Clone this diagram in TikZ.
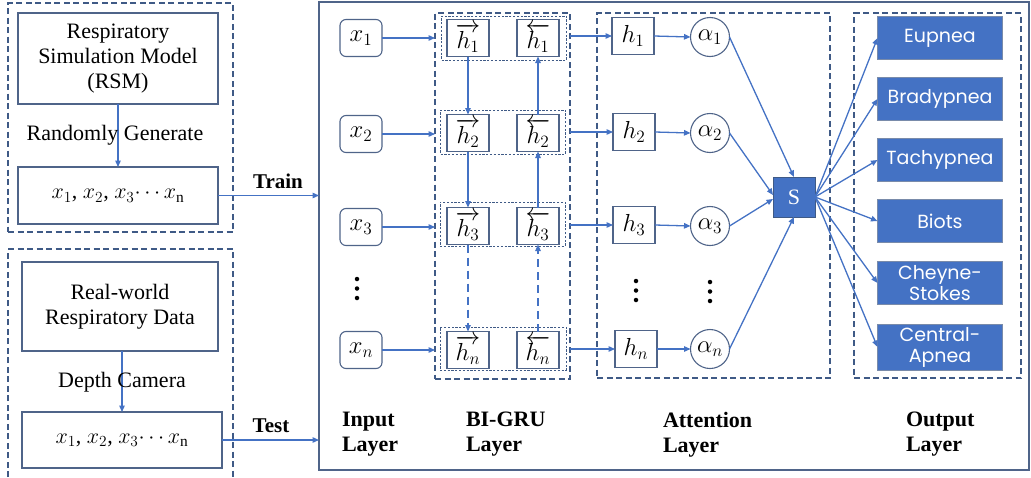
\RequirePackage{fix-cm}
\documentclass[tikz,border=0pt]{standalone}
\usepackage{fontspec}
\setmainfont{Liberation Serif}
\newfontfamily\popp{Poppins}
\usetikzlibrary{arrows.meta}
\definecolor{lblue}{HTML}{4472C4}
\definecolor{dashc}{HTML}{3F5A86}
\definecolor{bordc}{HTML}{4F6489}
\definecolor{sfill}{HTML}{4472C4}
\newcommand{\mymath}[2][1.12]{\scalebox{#1}{$#2$}}
\begin{document}
\begin{tikzpicture}[x=1pt,y=-1pt,
 every node/.style={inner sep=0pt, outer sep=0pt},
 txt/.style={font=\fontsize{22}{25}\selectfont},
 plainbox/.style={draw=bordc, line width=1.1pt, fill=white, align=center, font=\fontsize{22}{25}\selectfont},
 inbox/.style={draw=bordc, line width=1.1pt, rounded corners=6pt, minimum width=42pt, minimum height=37pt, font=\fontsize{22}{25}\selectfont},
 hbox/.style={draw=bordc, line width=1.1pt, fill=white, minimum width=42pt, minimum height=37pt, font=\fontsize{22}{25}\selectfont},
 abox/.style={draw=bordc, line width=1.1pt, circle, minimum size=39pt, font=\fontsize{22}{25}\selectfont},
 outbox/.style={draw=dashc!70, line width=0.8pt, fill=sfill, text=white, minimum width=125pt, minimum height=43pt, align=center, font=\popp\fontsize{19}{21}\selectfont},
 dbox/.style={draw=dashc, line width=1.1pt, dash pattern=on 6pt off 3.5pt},
 dotbox/.style={draw=dashc, line width=1pt, dash pattern=on 2.2pt off 1.6pt},
 arr/.style={draw=lblue, line width=1.3pt, -{Triangle[length=6.5pt,width=5.5pt]}},
 darr/.style={arr, dash pattern=on 8pt off 5pt},
 lab/.style={font=\bfseries\fontsize{22}{25}\selectfont, align=left, anchor=north west},
 vdot/.style={fill=black, circle, minimum size=4.5pt},
]
\useasboundingbox (0,0) rectangle (1031,477);

% ---------- left part ----------
\node[dbox, minimum width=225pt, minimum height=229pt] (lefttop) at (120.5,117.5) {};
\draw[dbox] (8,477) -- (8,249) -- (233,249) -- (233,477);

\node[plainbox, minimum width=200pt, minimum height=91pt] (rsm) at (118,58.5) {Respiratory\\Simulation Model\\(RSM)};
\node[plainbox, minimum width=200pt, minimum height=57pt] (xsa) at (118,195.5) {$x_1$, $x_2$, $x_3{\cdots}\,x_{\mathrm{n}}$};
\draw[arr] (rsm.south) -- (xsa.north);
\node[txt] (rg) at (115,135) {Randomly Generate};

\node[plainbox, minimum width=196pt, minimum height=89pt] (rwd) at (120,306.5) {Real-world\\Respiratory Data};
\node[plainbox, minimum width=200pt, minimum height=56pt] (xsb) at (122,440) {$x_1$, $x_2$, $x_3{\cdots}\,x_{\mathrm{n}}$};
\draw[arr] (rwd.south -| xsb.north) -- (xsb.north);
\node[txt] (dc) at (122,382) {Depth Camera};

% ---------- main box ----------
\node[draw=bordc, line width=1.2pt, minimum width=710pt, minimum height=468pt] (main) at (674,236) {};
\draw[arr] (xsa.east) -- (xsa.east -| main.west);
\draw[arr] (xsb.east) -- (xsb.east -| main.west);
\node[font=\bfseries\fontsize{21}{25}\selectfont] (train) at (278,181) {Train};
\node[font=\bfseries\fontsize{21}{25}\selectfont] (test) at (271,426) {Test};

% containers
\node[dbox, minimum width=135pt, minimum height=366pt] (bigru) at (502.5,196) {};
\node[dbox, minimum width=233pt, minimum height=365pt] (att) at (713.5,195.5) {};
\node[dbox, minimum width=167pt, minimum height=365pt] (outc) at (937.5,195.5) {};

% rows of dotted boxes
\node[dotbox, minimum width=125pt, minimum height=44pt] (r1) at (504,38) {};
\node[dotbox, minimum width=125pt, minimum height=44pt] (r2) at (503,132) {};
\node[dotbox, minimum width=125pt, minimum height=44pt] (r3) at (502.5,224) {};
\node[dotbox, minimum width=126pt, minimum height=43pt] (rn) at (503,348.5) {};

% input nodes
\node[inbox] (x1) at (361,38) {\mymath{x_1}};
\node[inbox] (x2) at (361,134) {\mymath{x_2}};
\node[inbox] (x3) at (361,227) {\mymath{x_3}};
\node[inbox] (xn) at (361,350) {\mymath{x_n}};
\foreach \yy in {279,288.5,298} \node[vdot] at (357,\yy) {};

% GRU nodes
\node[hbox] (f1) at (468,38) {\mymath{\overrightarrow{h_1}}};
\node[hbox] (b1) at (538,38) {\mymath{\overleftarrow{h_1}}};
\node[hbox] (f2) at (468,133) {\mymath{\overrightarrow{h_2}}};
\node[hbox] (b2) at (538,133) {\mymath{\overleftarrow{h_2}}};
\node[hbox] (f3) at (468,226) {\mymath{\overrightarrow{h_3}}};
\node[hbox] (b3) at (538,226) {\mymath{\overleftarrow{h_3}}};
\node[hbox] (fn) at (468,350) {\mymath{\overrightarrow{h_n}}};
\node[hbox] (bn) at (538,350) {\mymath{\overleftarrow{h_n}}};

\draw[arr] (f1.south) -- (f2.north);
\draw[arr] (f2.south) -- (f3.north);
\draw[darr] (f3.south) -- (fn.north);
\draw[arr] (b2.north) -- (b1.south);
\draw[arr] (b3.north) -- (b2.south);
\draw[darr] (bn.north) -- (b3.south);

\draw[arr] (x1.east) -- (x1.east -| bigru.west);
\draw[arr] (x2.east) -- (x2.east -| bigru.west);
\draw[arr] (x3.east) -- (x3.east -| bigru.west);
\draw[arr] (xn.east) -- (xn.east -| bigru.west);

% attention
\node[hbox] (h1) at (633,36) {\mymath{h_1}};
\node[hbox] (h2) at (634,132) {\mymath{h_2}};
\node[hbox] (h3) at (634,225) {\mymath{h_3}};
\node[hbox] (hn) at (636,349) {\mymath{h_n}};
\foreach \yy in {281,290.5,300} \node[vdot] at (636,\yy) {};
\node[abox] (a1) at (710,37) {\mymath{\alpha_1}};
\node[abox] (a2) at (710,133) {\mymath{\alpha_2}};
\node[abox] (a3) at (710,226) {\mymath{\alpha_3}};
\node[abox] (an) at (710,349) {\mymath{\alpha_n}};
\foreach \yy in {282,291.5,301} \node[vdot] at (710,\yy) {};

\draw[arr] (bigru.east |- h1.west) -- (h1.west);
\draw[arr] (bigru.east |- h2.west) -- (h2.west);
\draw[arr] (bigru.east |- h3.west) -- (h3.west);
\draw[arr] (bigru.east |- hn.west) -- (hn.west);
\draw[arr] (h1.east) -- (a1.west);
\draw[arr] (h2.east) -- (a2.west);
\draw[arr] (h3.east) -- (a3.west);
\draw[arr] (hn.east) -- (an.west);

\node[draw=dashc, line width=1pt, fill=sfill, text=white, minimum width=42pt, minimum height=40pt, font=\fontsize{22}{24}\selectfont] (S) at (794,197) {S};
\draw[arr] (a1.east) -- (S.north);
\draw[arr] (a2.east) -- ([yshift=2pt]S.west);
\draw[arr] (a3.east) -- ([yshift=-2pt]S.west);
\draw[arr] (an.east) -- (S.south);

% outputs
\node[outbox] (o1) at (940,38) {Eupnea};
\node[outbox] (o2) at (940,99) {Bradypnea};
\node[outbox] (o3) at (940,160) {Tachypnea};
\node[outbox] (o4) at (940,221) {Biots};
\node[outbox] (o5) at (940,283) {Cheyne-\\Stokes};
\node[outbox, minimum height=46pt] (o6) at (940,347) {Central-\\Apnea};
\foreach \o in {o1,o2,o3,o4,o5,o6} \draw[arr] (S.east) -- (\o.west);

% layer labels
\node[lab] (l1) at (342,412) {Input\\Layer};
\node[lab] (l2) at (466,412) {BI-GRU\\Layer};
\node[lab] (l3) at (663,412) {Attention\\Layer};
\node[lab] (l4) at (906,412) {Output\\Layer};
\end{tikzpicture}
\end{document}
